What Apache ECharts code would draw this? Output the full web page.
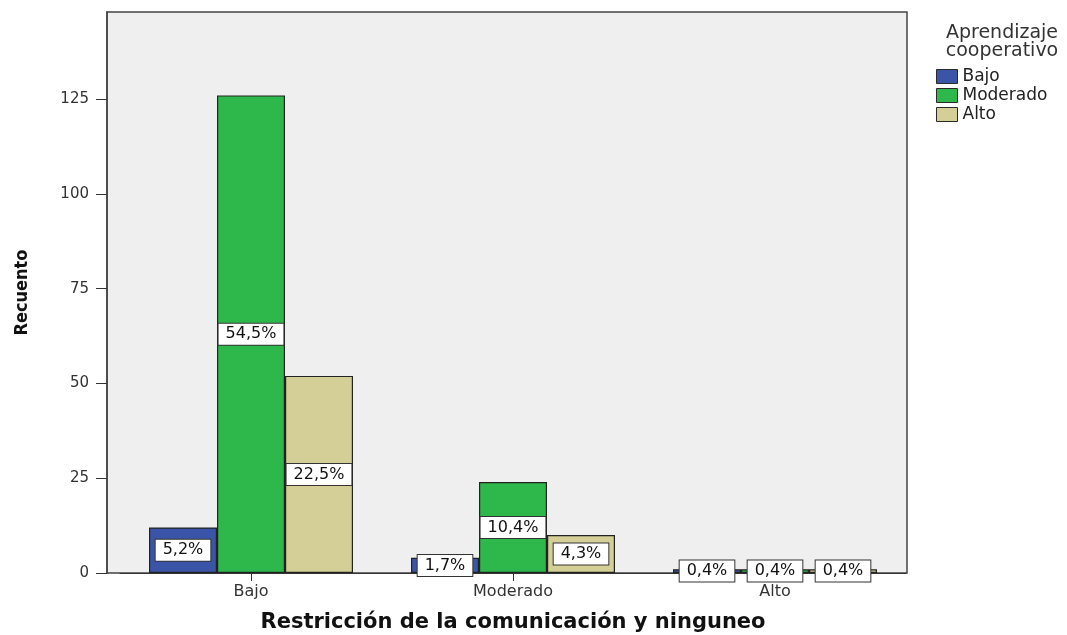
<!DOCTYPE html>
<html>
<head>
<meta charset="utf-8">
<script src="https://cdn.jsdelivr.net/npm/echarts@6/dist/echarts.min.js"></script>
<style>
  html, body { margin: 0; padding: 0; background: #fff; }
  #chart { width: 1067px; height: 635px; }
</style>
</head>
<body>
<div id="chart"></div>
<script>
var categories = ["Bajo", "Moderado", "Alto"]
var seriesNames = ["Bajo", "Moderado", "Alto"]
var bajoCounts = [12, 4, 1]
var moderadoCounts = [126, 24, 1]
var altoCounts = [52, 10, 1]
var bajoPct = ["5,2%", "1,7%", "0,4%"]
var moderadoPct = ["54,5%", "10,4%", "0,4%"]
var altoPct = ["22,5%", "4,3%", "0,4%"]
var yTicks = [0, 25, 50, 75, 100, 125]

var myColor = ["#3a55a8", "#2eb84b", "#d4cf97"]
var txtFont = "DejaVu Sans"

var myChart = echarts.init(document.getElementById("chart"))

function makeSeries(i, counts, pcts) {
  return {
    name: seriesNames[i],
    type: "bar",
    data: counts,
    barWidth: 68,
    barGap: "0%",
    z: 2,
    itemStyle: {
      color: myColor[i],
      borderColor: "#222",
      borderWidth: 1.2
    },
    label: {
      show: true,
      position: "inside",
      formatter: function (p) {
        return pcts[p.dataIndex]
      },
      color: "#111",
      fontFamily: txtFont,
      fontSize: 16,
      backgroundColor: "#ffffff",
      borderColor: "#333",
      borderWidth: 1,
      padding: [3, 7, 2, 7]
    }
  }
}

var option = {
  backgroundColor: "#ffffff",
  animation: false,
  graphic: [
    {
      // plot frame
      type: "rect",
      z: 0,
      shape: { x: 107, y: 12, width: 800, height: 561 },
      style: { fill: "#efefef", stroke: "#444", lineWidth: 1.5 }
    }
  ],
  title: {
    text: "Aprendizaje\ncooperativo",
    left: 997,
    top: 19,
    textAlign: "center",
    textStyle: {
      fontFamily: txtFont,
      fontWeight: "normal",
      fontSize: 19,
      lineHeight: 18,
      color: "#333"
    }
  },
  legend: {
    data: seriesNames,
    orient: "vertical",
    left: 931,
    top: 63,
    itemWidth: 21,
    itemHeight: 14,
    itemGap: 2,
    icon: "rect",
    itemStyle: { borderColor: "#2a2a2a", borderWidth: 1 },
    textStyle: {
      fontFamily: txtFont,
      fontSize: 17,
      lineHeight: 16,
      color: "#222"
    }
  },
  grid: {
    left: 120,
    right: 161,
    top: 12,
    bottom: 62,
    outerBoundsMode: "none",
    show: false
  },
  xAxis: {
    type: "category",
    data: categories,
    name: "Restricción de la comunicación y ninguneo",
    nameLocation: "middle",
    nameGap: 39,
    nameTextStyle: {
      fontFamily: txtFont,
      fontWeight: "bold",
      fontSize: 21,
      color: "#111"
    },
    axisLine: { show: true, lineStyle: { color: "#333", width: 1 } },
    axisTick: { show: true, alignWithLabel: true, length: 8, lineStyle: { color: "#333" } },
    axisLabel: {
      fontFamily: txtFont,
      fontSize: 16,
      color: "#333",
      margin: 11
    }
  },
  yAxis: {
    type: "value",
    min: 0,
    max: 148,
    interval: 25,
    offset: 13,
    name: "Recuento",
    nameLocation: "middle",
    nameGap: 76,
    nameTextStyle: {
      fontFamily: "DejaVu Sans Condensed",
      fontWeight: "bold",
      fontSize: 18,
      color: "#111"
    },
    splitLine: { show: false },
    axisLine: { show: true, lineStyle: { color: "#444", width: 1.5 } },
    axisTick: { show: true, length: 11, customValues: yTicks, lineStyle: { color: "#333" } },
    axisLabel: {
      fontFamily: txtFont,
      fontSize: 15,
      color: "#333",
      margin: 18,
      customValues: yTicks
    }
  },
  series: [
    makeSeries(0, bajoCounts, bajoPct),
    makeSeries(1, moderadoCounts, moderadoPct),
    makeSeries(2, altoCounts, altoPct)
  ]
}
myChart.setOption(option)
</script>
</body>
</html>
